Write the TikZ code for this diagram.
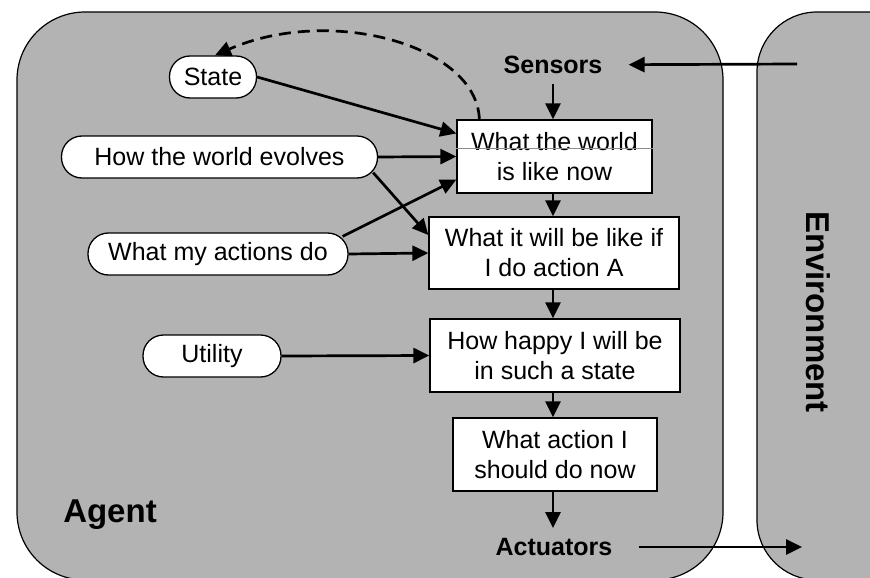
\documentclass[tikz,border=0pt]{standalone}
\usepackage{fontspec}
\setmainfont{Liberation Sans}
\usetikzlibrary{arrows.meta}
\definecolor{vblack}{HTML}{000000}
\definecolor{vpanel}{HTML}{B3B3B3}
\definecolor{vline}{HTML}{8C8C8C}

\begin{document}
\begin{tikzpicture}[x = 1pt, y = -1pt,
		panel/.style = {draw = vblack, fill = vpanel, line width = 1.2pt},
		boxnode/.style = {draw = vblack, fill = white, line width = 1.3pt, font = \fontsize{25}{30}\selectfont, align = center, inner sep = 0pt},
		oval/.style = {draw = vblack, fill = white, line width = 1.3pt, font = \fontsize{25}{30}\selectfont, rounded corners = 20.5pt, minimum height = 42pt, inner sep = 0pt},
		tag/.style = {font = \fontsize{25}{30}\selectfont\bfseries, inner xsep = 26pt, inner ysep = 10pt},
		arr/.style = {draw = vblack, line width = 2.7pt, -{Triangle[length = 16pt, width = 15pt]}}]
		\useasboundingbox (0,0) rectangle (870,578);
		\clip (0,0) rectangle (870,578);
		\draw[panel, rounded corners = 68pt] (17,12) rectangle (723,580);
		\draw[panel, rounded corners = 60pt] (757,12) rectangle (940,580);
		\node[tag] (sensors) at (553,65) {Sensors};
		\node[tag] (actuators) at (554,547) {Actuators};
		\node[font = \fontsize{33}{36}\selectfont\bfseries] (agent) at (110,515) {Agent};
		\node[font = \fontsize{33}{36}\selectfont\bfseries, rotate = -90] (env) at (818,312) {Environment};
		\coordinate (senv) at (797,64);
		\coordinate (aenv) at (802,547);
		\node[boxnode, minimum width = 195pt, minimum height = 73pt] (world) at (554.5,156.5) {What the world\\is like now};
		\draw[vline, line width = 0.8pt] (world.west |- 0,148) -- (world.east |- 0,148);
		\node[boxnode, minimum width = 250pt, minimum height = 72pt] (predict) at (554,253) {What it will be like if\\I do action A};
		\node[boxnode, minimum width = 250pt, minimum height = 73pt] (happy) at (555,355.5) {How happy I will be\\in such a state};
		\node[boxnode, minimum width = 204pt, minimum height = 73pt] (decide) at (555,454.5) {What action I\\should do now};
		\node[oval, minimum width = 87pt] (state) at (213,77) {State};
		\node[oval, minimum width = 316pt] (how) at (219.5,157) {How the world evolves};
		\node[oval, minimum width = 260pt] (actions) at (218,254) {What my actions do};
		\node[oval, minimum width = 138pt] (utility) at (212,356) {Utility};
		\draw[arr] (senv) -- (sensors);
		\draw[arr] (sensors.south) -- (sensors.south |- world.north);
		\draw[arr] (world.south -| sensors.south) -- (predict.north -| sensors.south);
		\draw[arr] (predict.south -| sensors.south) -- (happy.north -| sensors.south);
		\draw[arr] (happy.south -| sensors.south) -- (decide.north -| sensors.south);
		\draw[arr] (decide.south -| sensors.south) -- (actuators.north -| sensors.south);
		\draw[arr] (actuators) -- (aenv);
		\draw[arr] (state.east) -- ([yshift = 23pt]world.west);
		\draw[arr] (how.east) -- (world.west);
		\draw[arr] ([xshift = -5pt, yshift = 6pt]how.south east) -- ([yshift = 18pt]predict.west);
		\draw[arr] ([xshift = -6pt, yshift = -4pt]actions.north east) -- ([yshift = -23pt]world.west);
		\draw[arr] (actions.east) -- (predict.west);
		\draw[arr] (utility.east) -- (happy.west);
		\draw[arr, dash pattern = on 12pt off 7pt] ([xshift = 23pt]world.north west) .. controls (477,45) and (330,5) .. ([xshift = 2pt]state.north);
	\end{tikzpicture}
\end{document}
